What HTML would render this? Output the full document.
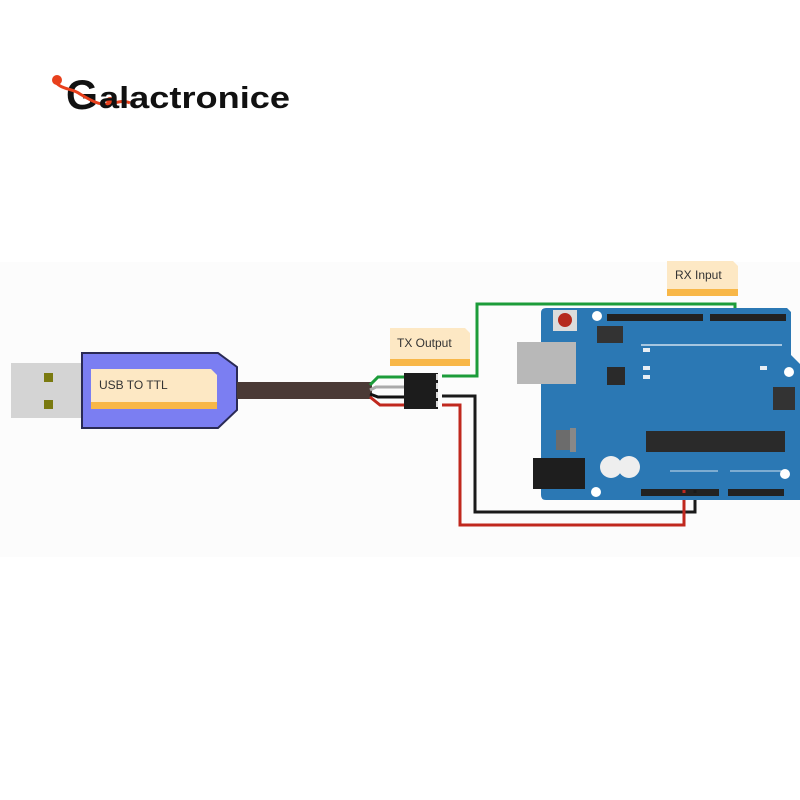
<!DOCTYPE html>
<html><head><meta charset="utf-8"><style>
html,body{margin:0;padding:0;background:#fff;width:800px;height:800px;overflow:hidden}
svg{display:block}
text{font-family:"Liberation Sans",sans-serif}
</style></head><body>
<svg width="800" height="800" viewBox="0 0 800 800" xmlns="http://www.w3.org/2000/svg">
<rect width="800" height="800" fill="#ffffff"/>
<rect x="0" y="262" width="800" height="295" fill="#fcfcfc"/>
<!-- logo -->
<text x="66" y="109" font-size="42" font-weight="bold" fill="#111" textLength="32" lengthAdjust="spacingAndGlyphs">G</text>
<path d="M54 80 C60 90 72 88 80 94 C90 100 100 106 110 104 C118 102 124 100 130 103" stroke="#e8401c" stroke-width="3" fill="none"/>
<circle cx="57" cy="80" r="5" fill="#e8401c"/>
<circle cx="110" cy="101" r="4" fill="#e8401c"/>
<text x="99" y="108" font-size="31" font-weight="bold" fill="#111" textLength="191" lengthAdjust="spacingAndGlyphs">alactronice</text>
<!-- USB plug -->
<rect x="11" y="363" width="72" height="55" fill="#d4d4d4"/>
<rect x="44" y="373" width="9" height="9" fill="#7a7a10"/>
<rect x="44" y="400" width="9" height="9" fill="#7a7a10"/>
<path d="M82 353 H218 L237 367 V410 L218 428 H82 Z" fill="#7b7ef2" stroke="#2a2a55" stroke-width="2"/>
<path d="M91 369 H211 L217 375 V409 H91 Z" fill="#fde8c4"/>
<rect x="91" y="402" width="126" height="7" fill="#f8b748"/>
<text x="99" y="389" font-size="12" fill="#333">USB TO TTL</text>
<rect x="237" y="382" width="135" height="17" fill="#4a3a36"/>
<!-- wires -->
<g fill="none" stroke-width="3">
<path d="M370 385 L378 377 H404" stroke="#1c9c3a"/>
<path d="M370 390 L376 387 H404" stroke="#aaa"/>
<path d="M370 394 L378 397 H404" stroke="#111"/>
<path d="M370 397 L380 405 H404" stroke="#c0281e"/>
<path d="M442 376 H477 V304 H735 V318" stroke="#1c9c3a"/>
<path d="M442 396 H475 V512 H695 V493" stroke="#1a1a1a"/>
<path d="M442 405 H460 V525 H684 V493" stroke="#c0281e"/>
</g>
<rect x="404" y="373" width="34" height="36" fill="#1c1c1c"/>
<g fill="#ddd"><rect x="436" y="374" width="2" height="6"/><rect x="436" y="383" width="2" height="6"/><rect x="436" y="392" width="2" height="6"/><rect x="436" y="401" width="2" height="6"/></g>
<!-- TX label -->
<path d="M390 328 H465 L470 333 V366 H390 Z" fill="#fde8c4"/>
<rect x="390" y="359" width="80" height="7" fill="#f8b748"/>
<text x="397" y="347" font-size="12" fill="#333">TX Output</text>
<!-- RX label -->
<path d="M667 261 H733 L738 266 V296 H667 Z" fill="#fde8c4"/>
<rect x="667" y="289" width="71" height="7" fill="#f8b748"/>
<text x="675" y="279" font-size="12" fill="#333">RX Input</text>
<!-- board -->
<path d="M546 308 H787 L791 312 V355 L800 364 V500 H546 Q541 500 541 495 V313 Q541 308 546 308 Z" fill="#2b78b4"/>
<rect x="517" y="342" width="59" height="42" fill="#b8b8b8"/>
<rect x="553" y="310" width="24" height="21" fill="#dcdcdc"/>
<circle cx="565" cy="320" r="7" fill="#b52a1e"/>
<rect x="607" y="314" width="96" height="7" fill="#222"/>
<rect x="710" y="314" width="76" height="7" fill="#222"/>
<rect x="597" y="326" width="26" height="17" fill="#333"/>
<line x1="641" y1="345" x2="782" y2="345" stroke="#cfe0ee" stroke-width="1.5"/>
<g fill="#e8eef4"><rect x="643" y="348" width="7" height="4"/><rect x="643" y="366" width="7" height="4"/><rect x="643" y="375" width="7" height="4"/><rect x="760" y="366" width="7" height="4"/></g>
<rect x="607" y="367" width="18" height="18" fill="#2a2a2a"/>
<rect x="773" y="387" width="22" height="23" fill="#333"/>
<rect x="556" y="430" width="14" height="20" fill="#6c6c6c"/>
<rect x="570" y="428" width="6" height="24" fill="#888"/>
<rect x="646" y="431" width="139" height="21" fill="#2a2a2a"/>
<rect x="533" y="458" width="52" height="31" fill="#1e1e1e"/>
<circle cx="611" cy="467" r="11" fill="#eee"/>
<circle cx="629" cy="467" r="11" fill="#eee"/>
<line x1="670" y1="471" x2="718" y2="471" stroke="#cfe0ee"/>
<line x1="730" y1="471" x2="784" y2="471" stroke="#cfe0ee"/>
<rect x="641" y="489" width="78" height="7" fill="#222"/>
<rect x="728" y="489" width="56" height="7" fill="#222"/>
<g fill="#fff"><circle cx="597" cy="316" r="5"/><circle cx="789" cy="372" r="5"/><circle cx="785" cy="474" r="5"/><circle cx="596" cy="492" r="5"/></g>
<g fill="none" stroke-width="3">
<path d="M684 490 V493" stroke="#c0281e"/><path d="M695 490 V493" stroke="#1a1a1a"/>
</g>
</svg>
</body></html>
